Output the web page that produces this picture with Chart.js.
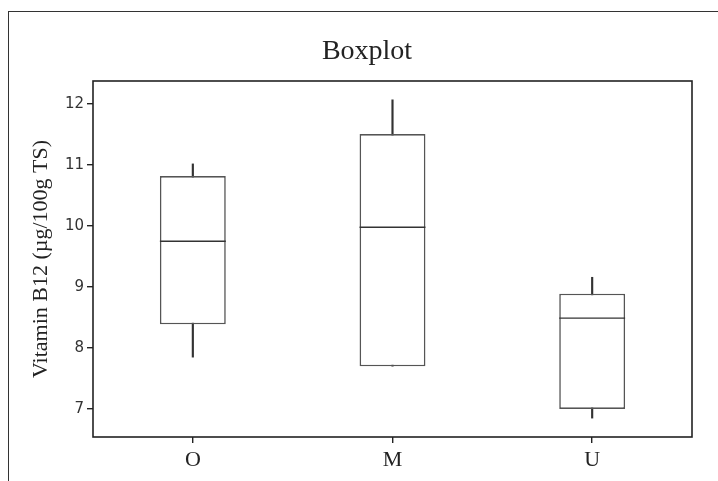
<!DOCTYPE html>
<html>
<head>
<meta charset="utf-8">
<script src="https://cdn.jsdelivr.net/npm/chart.js@4.4.1/dist/chart.umd.min.js"></script>
<style>
  html, body { margin: 0; padding: 0; background: #fff; }
  #wrap { position: relative; width: 718px; height: 481px; overflow: hidden; }
  #frame { position: absolute; left: 8px; top: 11px; width: 760px; height: 520px; border: 1.5px solid #333; }
  #chart { position: absolute; left: 0; top: 0; }
</style>
</head>
<body>
<div id="wrap">
  <div id="frame"></div>
  <canvas id="chart" width="718" height="481"></canvas>
</div>
<script>
const groups = ["O", "M", "U"];
const whiskerLow = [7.85, 7.70, 6.85];
const quartile1 = [8.39, 7.70, 7.00];
const medians = [9.75, 9.98, 8.49];
const quartile3 = [10.82, 11.51, 8.89];
const whiskerHigh = [11.02, 12.07, 9.16];
const yTicks = [7, 8, 9, 10, 11, 12];

const serif = "'Liberation Serif', 'Times New Roman', serif";
const medianHalf = 0.012; // half thickness of the median line, in axis units

// plot box round the chart area
const plotBox = {
  id: "plotBox",
  afterDraw(chart) {
    const { ctx, chartArea: a } = chart;
    ctx.save();
    ctx.strokeStyle = "#222";
    ctx.lineWidth = 1.6;
    ctx.strokeRect(a.left, a.top, a.right - a.left, a.bottom - a.top);
    ctx.restore();
  }
};

new Chart(document.getElementById("chart"), {
  type: "bar",
  data: {
    labels: groups,
    datasets: [
      {
        label: "Median",
        data: medians.map((m) => [m - medianHalf, m + medianHalf]),
        backgroundColor: "#333",
        barPercentage: 0.33,
        categoryPercentage: 1,
        grouped: false,
        order: 0
      },
      {
        label: "Box",
        data: groups.map((g, i) => [quartile1[i], quartile3[i]]),
        backgroundColor: "#fff",
        borderColor: "#555",
        borderWidth: 1.6,
        borderSkipped: false,
        barPercentage: 0.33,
        categoryPercentage: 1,
        grouped: false,
        order: 1
      },
      {
        label: "Whisker",
        data: groups.map((g, i) => [whiskerLow[i], whiskerHigh[i]]),
        backgroundColor: "#333",
        barThickness: 1.5,
        grouped: false,
        order: 2
      }
    ]
  },
  options: {
    responsive: false,
    animation: false,
    events: [],
    layout: { padding: { left: 42, right: 26, top: 0, bottom: 0 } },
    plugins: {
      legend: { display: false },
      tooltip: { enabled: false },
      title: {
        display: true,
        text: "Boxplot",
        color: "#222",
        font: { family: serif, size: 28, weight: "normal" },
        padding: { top: 34.7, bottom: 12.7 }
      }
    },
    scales: {
      x: {
        type: "category",
        offset: true,
        grid: { display: true, offset: false, drawOnChartArea: false, tickLength: 6, color: "#222", lineWidth: 1.4 },
        border: { display: false },
        ticks: { color: "#222", padding: 4, font: { family: serif, size: 22 } },
        afterFit(scale) { scale.height = 44; }
      },
      y: {
        type: "linear",
        min: 6.54,
        max: 12.38,
        grid: { display: true, drawOnChartArea: false, tickLength: 6, color: "#222", lineWidth: 1.4 },
        border: { display: false },
        ticks: { color: "#333", padding: 3, font: { family: "'DejaVu Sans', sans-serif", size: 15 } },
        afterBuildTicks(scale) { scale.ticks = yTicks.map((v) => ({ value: v })); },
        title: {
          display: true,
          text: "Vitamin B12 (µg/100g TS)",
          color: "#222",
          font: { family: serif, size: 22 },
          padding: { top: -14, bottom: 0 }
        },
        afterFit(scale) { scale.width = 51; }
      }
    }
  },
  plugins: [plotBox]
});
</script>
</body>
</html>
